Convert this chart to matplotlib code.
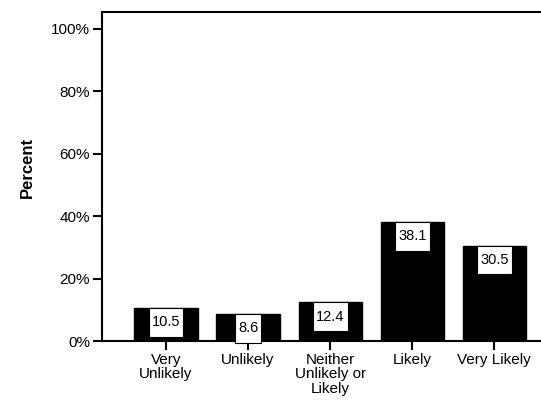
import matplotlib.pyplot as plt
from matplotlib.path import Path
import numpy as np

plt.rcParams['font.family'] = ['Liberation Sans', 'DejaVu Sans']

categories = ['Very\nUnlikely', 'Unlikely', 'Neither\nUnlikely or\nLikely', 'Likely', 'Very Likely']
percent = [10.5, 8.6, 12.4, 38.1, 30.5]
yticks = [0, 20, 40, 60, 80, 100]


def label_box(x0, y0, width, height, mutation_size):
    # rectangle with more room above/below the text than at the sides
    px = 0.22 * mutation_size
    py = 0.5 * mutation_size
    left, right = x0 - px, x0 + width + px
    bottom, top = y0 - py, y0 + height + py
    return Path([(left, bottom), (right, bottom), (right, top), (left, top), (left, bottom)],
                closed=True)


fig = plt.figure(figsize=(5.41, 4.03), dpi=100)
ax = fig.add_axes([0.1885, 0.1538, 0.8115, 0.8164])

x = np.arange(len(categories))
ax.bar(x, percent, width=0.77, color='black', edgecolor='black')

for i, v in enumerate(percent):
    ax.annotate(f"{v}", (i, v), xytext=(0, -5.2), textcoords='offset points',
                ha='center', va='top', fontsize=10.5,
                bbox=dict(boxstyle=label_box, fc='white', ec='black', lw=0.8))

ax.set_xlim(-0.78, 4.57)
ax.set_ylim(0, 105.4)
ax.set_xticks(x)
ax.set_xticklabels(categories, fontsize=11, linespacing=1.05)
ax.set_yticks(yticks)
ax.set_yticklabels([f"{t}%" for t in yticks], fontsize=11)
fig.text(27 / 541, 1 - 167 / 403, 'Percent', rotation=90, fontsize=12,
         fontweight='bold', ha='center', va='center')

ax.spines['right'].set_visible(False)
for s in ['left', 'top', 'bottom']:
    ax.spines[s].set_linewidth(1.5)
ax.tick_params(axis='both', direction='out', length=6.5, width=1.5, pad=2)

fig.savefig('out.png', dpi=100)
